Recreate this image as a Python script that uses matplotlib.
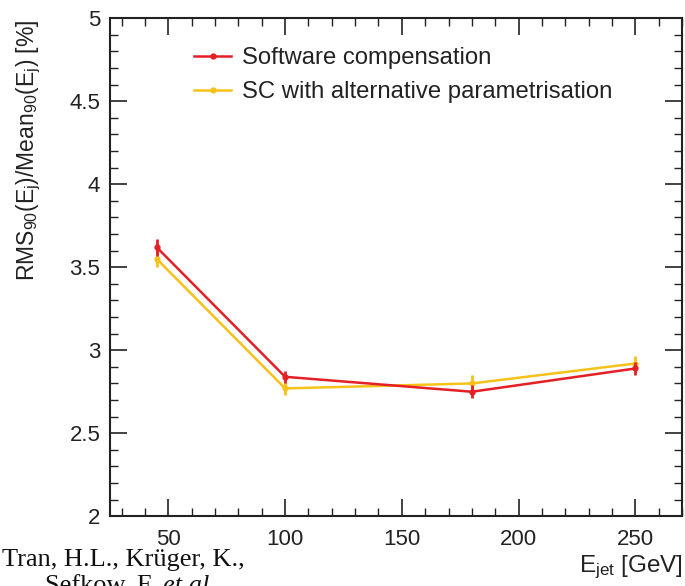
import matplotlib
matplotlib.use("Agg")
import matplotlib.pyplot as plt
from matplotlib.ticker import MultipleLocator
from matplotlib.lines import Line2D

energies = [45, 100, 180, 250]
sc_values = [3.62, 2.84, 2.75, 2.89]
sc_errors = [0.05, 0.035, 0.04, 0.04]
alt_values = [3.55, 2.77, 2.80, 2.92]
alt_errors = [0.05, 0.04, 0.05, 0.045]
labels = ["Software compensation", "SC with alternative parametrisation"]
x_ticks = [50, 100, 150, 200, 250]
y_ticks = [2, 2.5, 3, 3.5, 4, 4.5, 5]
y_tick_labels = ['2', '2.5', '3', '3.5', '4', '4.5', '5']

plt.rcParams['font.family'] = ['Liberation Sans', 'DejaVu Sans']
plt.rcParams['mathtext.fontset'] = 'custom'
plt.rcParams['mathtext.rm'] = 'Liberation Sans'
plt.rcParams['mathtext.it'] = 'Liberation Sans:italic'

fig = plt.figure(figsize=(6.85, 5.86), dpi=100)
ax = fig.add_axes([0.1606, 0.119, 0.835, 0.85])

red = '#e41f26'
gold = '#f6c21a'
txt = '#222222'

ax.errorbar(energies, sc_values, yerr=sc_errors, color=red, lw=1.8,
            marker='o', ms=3.5, elinewidth=2, capsize=0, zorder=3)
ax.errorbar(energies, alt_values, yerr=alt_errors, color=gold, lw=1.8,
            marker='o', ms=3.5, elinewidth=2, capsize=0, zorder=2)

ax.set_xlim(25, 270)
ax.set_ylim(2, 5)
ax.set_xticks(x_ticks)
ax.set_xticklabels([str(v) for v in x_ticks])
ax.set_yticks(y_ticks)
ax.set_yticklabels(y_tick_labels)
ax.xaxis.set_minor_locator(MultipleLocator(10))
ax.yaxis.set_minor_locator(MultipleLocator(0.1))
ax.tick_params(which='both', direction='in', top=True, right=True, labelsize=16, colors=txt)
ax.tick_params(which='major', length=12, width=1.2)
ax.tick_params(which='minor', length=6, width=1.0)
ax.tick_params(axis='x', pad=9)
ax.tick_params(axis='y', pad=7)
for s in ax.spines.values():
    s.set_linewidth(1.5)
    s.set_color(txt)

ax.set_ylabel(r'RMS$_{\mathregular{90}}$(E$_{\mathregular{j}}$)/Mean$_{\mathregular{90}}$(E$_{\mathregular{j}}$) [%]',
              fontsize=16.5, color=txt)
ax.yaxis.set_label_coords(-0.118, 0.734)
fig.text(0.997, 0.032, r'E$_{\mathregular{jet}}$ [GeV]', ha='right', va='center', fontsize=17.5, color=txt)

handles = [Line2D([0], [0], color=red, lw=1.8, marker='o', ms=3.5),
           Line2D([0], [0], color=gold, lw=1.8, marker='o', ms=3.5)]
leg = ax.legend(handles, labels, loc='upper left', bbox_to_anchor=(0.11, 0.985), frameon=False,
                fontsize=17.2, handlelength=1.55, labelspacing=0.5, handletextpad=0.45)
for t in leg.get_texts():
    t.set_color(txt)

serif = ['Liberation Serif', 'DejaVu Serif']
fig.text(0.003, 0.044, 'Tran, H.L., Krüger, K.,', family=serif,
         fontsize=19, ha='left', va='center', color='#111111')
t1 = fig.text(0.066, 0.0, 'Sefkow, F. ', family=serif,
              fontsize=19, ha='left', va='center', color='#111111')
fig.canvas.draw()
bb = t1.get_window_extent(renderer=fig.canvas.get_renderer())
fig.text(bb.x1 / fig.bbox.width, 0.0, 'et al.', family=serif, fontstyle='italic',
         fontsize=19, ha='left', va='center', color='#111111')

fig.savefig('out.png', dpi=100)
